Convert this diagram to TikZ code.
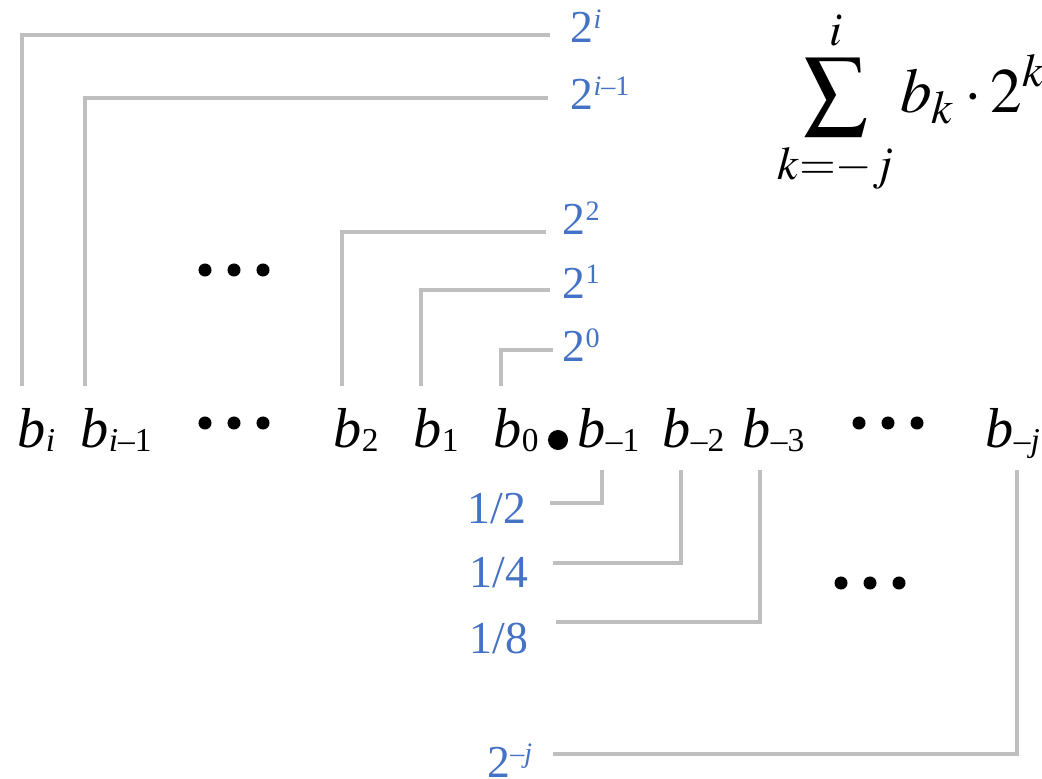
\documentclass[tikz,border=0pt]{standalone}
\usepackage{mathptmx}
\usepackage{fontspec}
\setmainfont{Liberation Serif}
\definecolor{bitG}{RGB}{191,191,191}
\definecolor{wtB}{RGB}{68,114,196}
\newcommand\bsub[1]{\raisebox{-1.4pt}{\fontsize{9.5}{11}\selectfont #1}}
\newcommand\wsup[1]{\raisebox{4pt}{\fontsize{8}{10}\selectfont #1}}
\newcommand\bitlab[1]{\textit{b}\bsub{#1}}
\tikzset{
  bit/.style={anchor=base west, inner sep=0pt, font=\fontsize{16}{19}\selectfont},
  wt/.style={anchor=base west, inner sep=0pt, text=wtB, font=\fontsize{13}{16}\selectfont},
  wtr/.style={wt, anchor=base east},
  conn/.style={draw=bitG, line width=1.2pt},
  dot/.style={circle, fill, inner sep=0pt, minimum size=0.13cm}
}

\begin{document}
\begin{tikzpicture}[x=0.01cm, y=-0.01cm]
\useasboundingbox (0,0) rectangle (1042,779);
% bit row
\node[bit] (bi) at (17,447) {\bitlab{\textit{i}}};
\node[bit] (bim1) at (80,447) {\bitlab{\textit{i}–1}};
\node[bit] (b2) at (333,447) {\bitlab{2}};
\node[bit] (b1) at (413,447) {\bitlab{1}};
\node[bit] (b0) at (493,447) {\bitlab{0}};
\node[circle, fill, inner sep=0pt, minimum size=0.2cm] (pt) at (558,440) {};
\node[bit] (bm1) at (577,447) {\bitlab{–1}};
\node[bit] (bm2) at (662,447) {\bitlab{–2}};
\node[bit] (bm3) at (742,447) {\bitlab{–3}};
\node[bit] (bmj) at (985,447) {\bitlab{–\textit{j}}};
% ellipses
\foreach \x/\y in {205/423, 859/423, 205/270, 841/583}
  \foreach \d in {0,29,58}
    \node[dot] at (\x+\d,\y) {};
% weights
\node[wt] (pi) at (570,43) {2\wsup{\textit{i}}};
\node[wt] (pim1) at (570,110) {2\wsup{\textit{i}–1}};
\node[wt] (p2) at (562,235) {2\wsup{2}};
\node[wt] (p1) at (562,298) {2\wsup{1}};
\node[wt] (p0) at (562,362) {2\wsup{0}};
\node[wtr] (pm1) at (527,523) {1/2};
\node[wtr] (pm2) at (529,587) {1/4};
\node[wtr] (pm3) at (529,653) {1/8};
\node[wtr] (pmj) at (533,777) {2\wsup{–\textit{j}}};
% connectors
\foreach \b/\bx/\p/\px/\py in {bi/5/pi/-20/-8, bim1/5/pim1/-22/-12, b2/9/p2/-16/-3,
    b1/8/p1/-12/-8, b0/8/p0/-9/-12}
  \draw[conn] ([shift={(\bx,-61)}]\b.base west) |- ([shift={(\px,\py)}]\p.base west);
\foreach \b/\bx/\p/\px/\py in {bm1/25/pm1/23/-20, bm2/19/pm2/24/-24, bm3/18/pm3/27/-31,
    bmj/32/pmj/20/-23}
  \draw[conn] ([shift={(\bx,23)}]\b.base west) |- ([shift={(\px,\py)}]\p.base east);
% sum
\node[inner sep=0pt, anchor=base west, font=\fontsize{18}{22}\selectfont] (sum) at (777,113)
  {$\displaystyle\sum_{k=-j}^{i} b_k\cdot 2^k$};
\end{tikzpicture}
\end{document}
